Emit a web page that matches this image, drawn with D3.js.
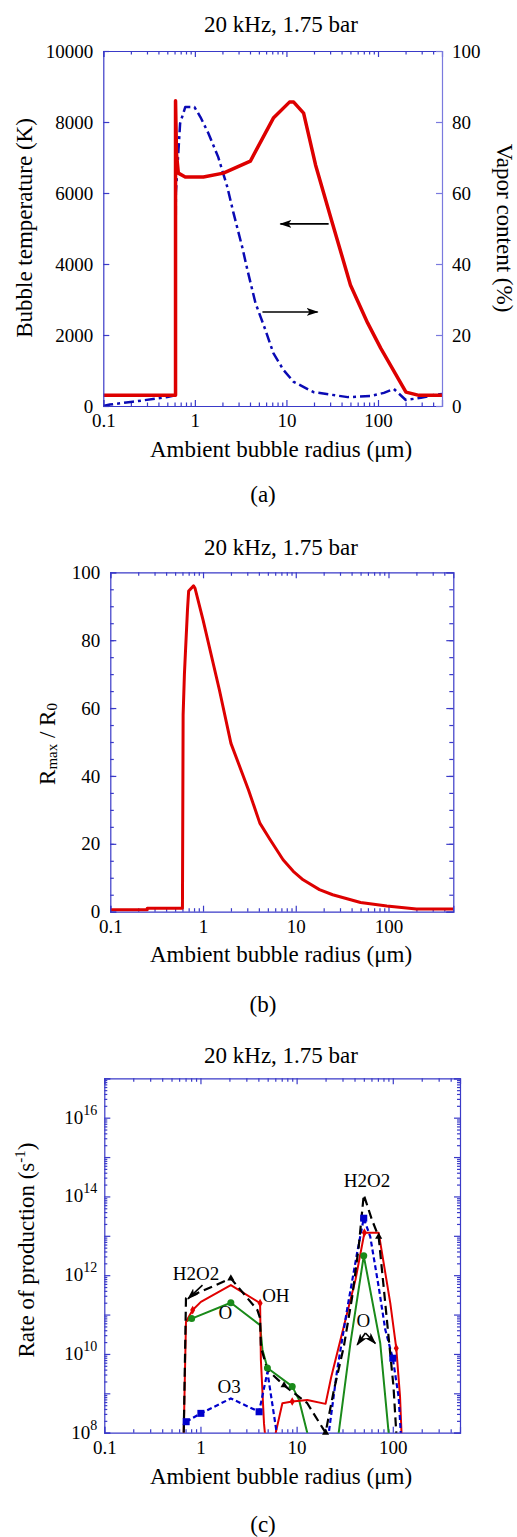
<!DOCTYPE html>
<html lang="en">
<head>
<meta charset="UTF-8">
<title>20 kHz, 1.75 bar</title>
<script src="https://d3js.org/d3.v7.min.js"></script>
<style>
  body { margin: 0; padding: 0; background: #fff; }
  svg text { font-family: "Liberation Serif", "DejaVu Serif", serif; fill: #000; }
  .tick text { font-size: 19px; }
  .lbl { font-size: 23px; }
  .note { font-size: 19px; }
</style>
</head>
<body>
<div id="chart"></div>
<script>
// ---- data ----
const radiusDomain = [0.1, 500];
const radiusTicks = [0.1, 1, 10, 100];

// (a) bubble temperature (K), left axis
const tempR = [0.1, 0.615, 0.615, 0.63, 0.66, 0.785, 1.24, 2.05, 4.04, 7.2, 10.8, 12, 15.4, 20.8, 30.4, 50, 77, 107, 202, 280, 500];
const tempK = [300, 300, 8600, 7100, 6560, 6450, 6450, 6560, 6900, 8110, 8560, 8560, 8250, 6790, 5320, 3410, 2340, 1630, 390, 300, 300];
// (a) vapor content (%), right axis
const vaporR = [0.1, 0.118, 0.21, 0.5, 0.61, 0.62, 0.69, 0.785, 0.99, 1.15, 1.4, 1.8, 2.26, 2.64, 3.31, 3.75, 4.59, 5.9, 7.2, 9.3, 12, 19.8, 46.7, 83, 116, 149, 201, 294, 408, 500];
const vaporPct = [0, 0.4, 1.2, 2.5, 3, 60, 79.6, 84.2, 84.2, 81.4, 76.9, 70.1, 61.7, 54.4, 44.5, 38.3, 29, 21.4, 14.9, 10.1, 6.8, 3.9, 2.5, 2.8, 3.7, 4.8, 1.7, 2.3, 3.1, 3.4];

// (b) Rmax / R0
const ratioR = [0.1, 0.25, 0.25, 0.6, 0.61, 0.63, 0.645, 0.68, 0.7, 0.79, 0.82, 1.0, 1.5, 2.0, 3.1, 4.1, 5.3, 7.3, 9.4, 12, 18, 25, 50, 96, 200, 500];
const ratioV = [0.6, 0.6, 1.0, 1.0, 58, 70, 76, 89, 94.5, 96, 95.3, 86, 65.4, 49.6, 35.8, 26.1, 21.2, 15.3, 11.9, 9.4, 6.5, 5.0, 2.7, 1.7, 0.8, 0.8];

// (c) rate of production (1/s)
const ohR   = [0.67, 0.707, 0.83, 1.01, 2.07, 4.17, 4.25, 4.58, 4.9, 5.9, 6.06, 7.11, 9.0, 12.9, 20, 22.9, 30.9, 40.9, 50.7, 71.3, 94.2, 108.7, 119, 128];
const ohV   = [1e8, 6.6e10, 1.3e11, 2.1e11, 5.6e11, 1.95e11, 7e9, 1.7e8, 3e7, 3e7, 1e8, 5.6e8, 6.2e8, 6.8e8, 5.4e8, 2.6e9, 4.9e10, 7.6e11, 1.2e13, 1.2e13, 1.95e11, 1.4e10, 8.1e8, 1e7];
const ohMarkR = [0.83, 4.17, 9.0, 50.7, 108.7];
const ohMarkV = [1.3e11, 1.95e11, 6.2e8, 1.2e13, 1.4e10];

const h2o2R = [0.67, 0.707, 2.07, 3.91, 4.17, 4.25, 4.97, 7.4, 12.9, 20, 24.4, 30.9, 37.8, 44.2, 49.9, 60.9, 71.3, 80.3, 90.3, 101.7, 108.7, 115];
const h2o2V = [1e8, 2.6e11, 8.3e11, 1.3e11, 8e10, 1.5e10, 3.9e9, 1.6e9, 5.6e8, 1e8, 1.2e9, 1.5e10, 2.8e11, 5.2e12, 1.1e14, 2.5e13, 9.5e12, 5.1e11, 2.8e10, 1.5e9, 1e8, 1e7];
const h2o2MarkR = [2.07, 7.4, 20, 71.3];
const h2o2MarkV = [8.3e11, 1.6e9, 1e8, 9.5e12];

const o3R = [0.71, 1.01, 2.07, 4.07, 4.97, 6.2, 6.6, 20.5, 21.6, 26.4, 33.4, 42.5, 49.9, 58.3, 71.3, 83.6, 100, 115, 121, 126];
const o3V = [1.9e8, 3.1e8, 7.4e8, 3.4e8, 3.5e9, 1e8, 1e7, 1e7, 1e8, 3.9e9, 1.3e11, 3.6e12, 2.8e13, 9.5e12, 5.1e11, 4.1e10, 7.8e9, 8.1e8, 1e8, 1e7];
const o3MarkR = [0.71, 1.01, 4.07, 49.9, 100];
const o3MarkV = [1.9e8, 3.1e8, 3.4e8, 2.8e13, 7.8e9];

const oR = [0.707, 0.81, 2.07, 4.17, 4.41, 4.97, 9.0, 10.6, 12.9, 13.6, 26, 27.4, 36.3, 49.9, 74, 90.5, 96];
const oV = [6.6e10, 7.9e10, 2e11, 5.4e10, 1.3e10, 4.4e9, 1.5e9, 6.8e8, 1e8, 1e7, 1e7, 1e8, 1.9e10, 3.1e12, 1.9e10, 1e8, 1e7];
const oMarkR = [0.81, 2.07, 4.97, 9.0, 49.9];
const oMarkV = [7.9e10, 2e11, 4.4e9, 1.5e9, 3.1e12];

const rateExps = [8, 9, 10, 11, 12, 13, 14, 15, 16, 17];
const rateLabelExps = [8, 10, 12, 14, 16];

// ---- drawing ----
const W = 517, H = 1537;
const AXIS = "#3a3ac8";
const AXIS_LIGHT = "#7a7ade";
const SERIF = "Liberation Serif, DejaVu Serif, serif";

const svg = d3.select("#chart").append("svg")
    .attr("width", W)
    .attr("height", H)
    .attr("font-family", SERIF);

const defs = svg.append("defs");
defs.append("marker")
    .attr("id", "head")
    .attr("viewBox", "0 0 12 8")
    .attr("refX", 11).attr("refY", 4)
    .attr("markerWidth", 12).attr("markerHeight", 8)
    .attr("markerUnits", "userSpaceOnUse")
    .attr("orient", "auto")
    .append("path")
    .attr("d", "M0,0 L12,4 L0,8 L3,4 Z")
    .attr("fill", "#000");

function minorLog(lo, hi) {
    const out = [];
    for (let e = Math.floor(Math.log10(lo)); e <= Math.ceil(Math.log10(hi)); e++) {
        for (let m = 2; m <= 9; m++) {
            const v = m * Math.pow(10, e);
            if (v > lo && v < hi) out.push(v);
        }
    }
    return out;
}

// d3 axes put their own font on the group, so reset it here
function styleAxis(sel, color) {
    sel.attr("font-family", SERIF).attr("font-size", 19);
    sel.selectAll("path, line").attr("stroke", color).attr("stroke-width", 1.2);
}

// plot frame with log x axis (top + bottom)
function makePanel(id, left, top, w, h) {
    const g = svg.append("g").attr("transform", `translate(${left},${top})`);
    const x = d3.scaleLog().domain(radiusDomain).range([0, w]);
    const minor = minorLog(radiusDomain[0], radiusDomain[1]);

    g.append("g").attr("transform", `translate(0,${h})`)
        .call(d3.axisBottom(x).tickValues(radiusTicks).tickSize(-6).tickPadding(8).tickFormat(d3.format("~g")))
        .call(s => styleAxis(s, AXIS));
    g.append("g").attr("transform", `translate(0,${h})`)
        .call(d3.axisBottom(x).tickValues(minor).tickSize(-3.5).tickFormat(""))
        .call(s => s.select(".domain").remove())
        .call(s => styleAxis(s, AXIS));
    g.append("g")
        .call(d3.axisTop(x).tickValues(radiusTicks).tickSize(-6).tickFormat(""))
        .call(s => styleAxis(s, AXIS));
    g.append("g")
        .call(d3.axisTop(x).tickValues(minor).tickSize(-3.5).tickFormat(""))
        .call(s => s.select(".domain").remove())
        .call(s => styleAxis(s, AXIS));

    defs.append("clipPath").attr("id", id)
        .append("rect").attr("width", w).attr("height", h);
    const plot = g.append("g").attr("clip-path", `url(#${id})`);
    return { g, plot, x, w, h };
}

function label(transform, text) {
    return svg.append("text").attr("class", "lbl")
        .attr("transform", transform)
        .attr("text-anchor", "middle")
        .text(text);
}

function drawLine(plot, x, y, xs, ys, color, width, dash) {
    const line = d3.line().x(d => x(d[0])).y(d => y(d[1]));
    plot.append("path")
        .datum(d3.zip(xs, ys))
        .attr("d", line)
        .attr("fill", "none")
        .attr("stroke", color)
        .attr("stroke-width", width)
        .attr("stroke-linejoin", "round")
        .attr("stroke-dasharray", dash || null);
}

const xTitle = "Ambient bubble radius (\u03bcm)";
const panelTitle = "20 kHz, 1.75 bar";

// ===== (a) =====
const A = makePanel("clipA", 103.3, 51, 338.7, 355);
const yT = d3.scaleLinear().domain([0, 10000]).range([A.h, 0]);
const yV = d3.scaleLinear().domain([0, 100]).range([A.h, 0]);

A.g.append("g")
    .call(d3.axisLeft(yT).tickValues(d3.range(0, 10001, 2000)).tickSize(-6).tickPadding(10).tickFormat(d3.format("d")))
    .call(s => styleAxis(s, AXIS));
A.g.append("g").attr("transform", `translate(${A.w},0)`)
    .call(d3.axisRight(yV).tickValues(d3.range(0, 101, 20)).tickSize(-6).tickPadding(10).tickFormat(d3.format("d")))
    .call(s => styleAxis(s, AXIS_LIGHT));

drawLine(A.plot, A.x, yV, vaporR, vaporPct, "#0a0ab4", 2.5, "10,4,3,4");
drawLine(A.plot, A.x, yT, tempR, tempK, "#dd0000", 3.5);

A.g.append("line")
    .attr("x1", A.x(28.9)).attr("x2", A.x(8.6))
    .attr("y1", yT(5130)).attr("y2", yT(5130))
    .attr("stroke", "#000").attr("stroke-width", 1.6).attr("marker-end", "url(#head)");
A.g.append("line")
    .attr("x1", A.x(5.47)).attr("x2", A.x(21.9))
    .attr("y1", yV(26.5)).attr("y2", yV(26.5))
    .attr("stroke", "#000").attr("stroke-width", 1.6).attr("marker-end", "url(#head)");

label("translate(281,32)", panelTitle);
label("translate(281,457)", xTitle);
label("translate(263,502)", "(a)");
label("translate(32,228) rotate(-90)", "Bubble temperature (K)");
label("translate(497,228) rotate(90)", "Vapor content (%)");

// ===== (b) =====
const B = makePanel("clipB", 110.3, 572.3, 343, 339.4);
const yR = d3.scaleLinear().domain([0, 100]).range([B.h, 0]);

B.g.append("g")
    .call(d3.axisLeft(yR).tickValues(d3.range(0, 101, 20)).tickSize(-6).tickPadding(10))
    .call(s => styleAxis(s, AXIS));
B.g.append("g")
    .call(d3.axisLeft(yR).tickValues(d3.range(5, 100, 5)).tickSize(-3.5).tickFormat(""))
    .call(s => s.select(".domain").remove())
    .call(s => styleAxis(s, AXIS));
B.g.append("g").attr("transform", `translate(${B.w},0)`)
    .call(d3.axisRight(yR).tickValues(d3.range(0, 101, 20)).tickSize(-7).tickFormat(""))
    .call(s => styleAxis(s, AXIS));
B.g.append("g").attr("transform", `translate(${B.w},0)`)
    .call(d3.axisRight(yR).tickValues(d3.range(5, 100, 5)).tickSize(-4).tickFormat(""))
    .call(s => s.select(".domain").remove())
    .call(s => styleAxis(s, AXIS));

drawLine(B.plot, B.x, yR, ratioR, ratioV, "#dd0000", 3);

label("translate(281,555)", panelTitle);
label("translate(281,962)", xTitle);
label("translate(263,1012)", "(b)");
const rl = svg.append("text").attr("class", "lbl")
    .attr("transform", "translate(55,744) rotate(-90)")
    .attr("text-anchor", "middle");
rl.append("tspan").text("R");
rl.append("tspan").attr("font-size", 15).attr("dy", 2).text("max");
rl.append("tspan").attr("dy", -2).text(" / R");
rl.append("tspan").attr("font-size", 15).attr("dy", 2).text("0");

// ===== (c) =====
const C = makePanel("clipC", 104.3, 1078.3, 355.7, 354.4);
const yP = d3.scaleLog().domain([1e8, 1e17]).range([C.h, 0]);
const majorP = rateExps.map(e => Math.pow(10, e));
const minorP = minorLog(1e8, 1e17);

[[d3.axisLeft, 0], [d3.axisRight, C.w]].forEach(([ax, tx]) => {
    C.g.append("g").attr("transform", `translate(${tx},0)`)
        .call(ax(yP).tickValues(majorP).tickSize(-6).tickFormat(""))
        .call(s => styleAxis(s, AXIS));
    C.g.append("g").attr("transform", `translate(${tx},0)`)
        .call(ax(yP).tickValues(minorP).tickSize(-3).tickFormat(""))
        .call(s => s.select(".domain").remove())
        .call(s => styleAxis(s, AXIS));
});

rateLabelExps.forEach(e => {
    const t = C.g.append("text").attr("class", "note")
        .attr("x", -7).attr("y", yP(Math.pow(10, e)) + 6)
        .attr("text-anchor", "end");
    t.append("tspan").text("10");
    t.append("tspan").attr("font-size", 14).attr("dy", -9).text(e);
});

drawLine(C.plot, C.x, yP, oR, oV, "#1a8a1a", 2);
drawLine(C.plot, C.x, yP, ohR, ohV, "#e00000", 2);
drawLine(C.plot, C.x, yP, o3R, o3V, "#0000cc", 2.2, "5,3");
drawLine(C.plot, C.x, yP, h2o2R, h2o2V, "#000", 2.2, "9,5");

C.plot.selectAll(".mo").data(d3.zip(oMarkR, oMarkV)).enter().append("circle")
    .attr("cx", d => C.x(d[0])).attr("cy", d => yP(d[1])).attr("r", 3.5).attr("fill", "#1a8a1a");
C.plot.selectAll(".mq").data(d3.zip(o3MarkR, o3MarkV)).enter().append("rect")
    .attr("x", d => C.x(d[0]) - 3.5).attr("y", d => yP(d[1]) - 3.5)
    .attr("width", 7).attr("height", 7).attr("fill", "#0000cc");
C.plot.selectAll(".mh").data(d3.zip(ohMarkR, ohMarkV)).enter().append("path")
    .attr("transform", d => `translate(${C.x(d[0])},${yP(d[1])})`)
    .attr("d", d3.symbol(d3.symbolDiamond, 22))
    .attr("fill", "#e00000");
C.g.selectAll(".mt").data(d3.zip(h2o2MarkR, h2o2MarkV)).enter().append("path")
    .attr("transform", d => `translate(${C.x(d[0])},${yP(d[1])})`)
    .attr("d", d3.symbol(d3.symbolTriangle, 22))
    .attr("fill", "#000");

// annotations
function note(text, r, v, anchor) {
    C.g.append("text").attr("class", "note")
        .attr("x", C.x(r)).attr("y", yP(v))
        .attr("text-anchor", anchor || "middle")
        .text(text);
}
note("H2O2", 0.9, 7.4e11);
note("OH", 4.38, 2.1e11, "start");
note("O", 1.82, 7.8e10);
note("O3", 1.99, 1.02e9);
note("H2O2", 54, 1.75e14);
note("O", 49.5, 4.8e10);

function arrow(r1, v1, r2, v2) {
    C.g.append("line")
        .attr("x1", C.x(r1)).attr("y1", yP(v1))
        .attr("x2", C.x(r2)).attr("y2", yP(v2))
        .attr("stroke", "#000").attr("stroke-width", 1.6)
        .attr("marker-end", "url(#head)");
}
arrow(1.05, 5.6e11, 0.74, 2.5e11);
arrow(51.9, 3.4e10, 42.6, 1.7e10);
arrow(51.9, 3.4e10, 65.9, 1.85e10);

label("translate(281,1063)", panelTitle);
label("translate(281,1484)", xTitle);
label("translate(263,1532)", "(c)");
const pl = svg.append("text").attr("class", "lbl")
    .attr("transform", "translate(34,1250) rotate(-90)")
    .attr("text-anchor", "middle");
pl.append("tspan").text("Rate of production (s");
pl.append("tspan").attr("font-size", 15).attr("dy", -9).text("-1");
pl.append("tspan").attr("dy", 9).text(")");
</script>
</body>
</html>
